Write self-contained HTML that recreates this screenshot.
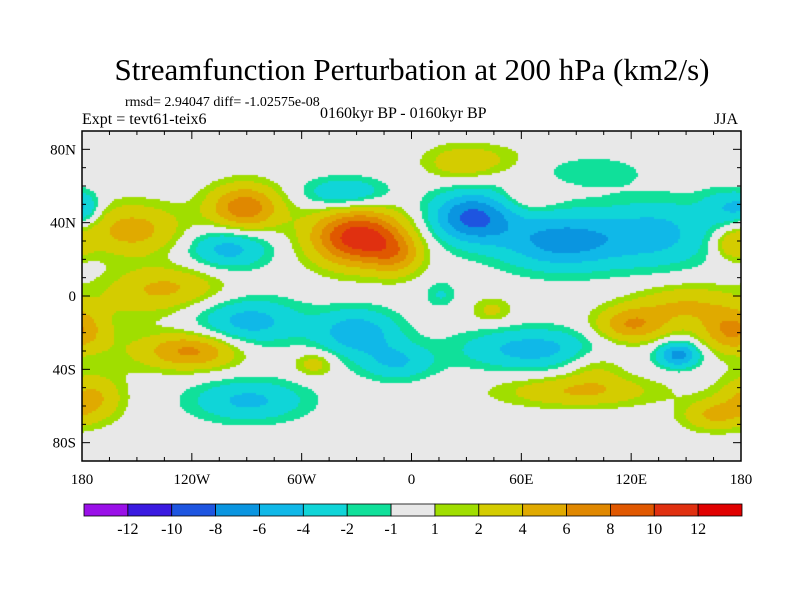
<!DOCTYPE html>
<html><head><meta charset="utf-8"><style>
body{margin:0;background:#fff;width:800px;height:600px;overflow:hidden;position:relative;font-family:"Liberation Serif",serif}
.t{position:absolute;white-space:nowrap;color:#000}
</style></head><body>
<div class="t" style="left:0;width:824px;text-align:center;top:52px;font-size:31px">Streamfunction Perturbation at 200 hPa (km2/s)</div>
<div class="t" style="left:125px;top:95px;font-size:14px">rmsd= 2.94047 diff= -1.02575e-08</div>
<div class="t" style="left:82px;top:111px;font-size:16px">Expt = tevt61-teix6</div>
<div class="t" style="left:320px;top:105px;font-size:16px">0160kyr BP - 0160kyr BP</div>
<div class="t" style="left:714px;top:111px;font-size:16px">JJA</div>
<canvas id="map" width="659" height="330" style="position:absolute;left:82px;top:131px"></canvas>
<svg id="ax" width="800" height="600" style="position:absolute;left:0;top:0"></svg>
<script>
const levels=[-12,-10,-8,-6,-4,-2,-1,1,2,4,6,8,10,12];
const colors=["#9a10e8","#3a1ae0","#1e55e0","#0a95e0","#10b8e8","#10d5d8","#10e09a","#e8e8e8","#a0de00","#d4cc00","#e0aa00","#e08800","#e05800","#e03010","#e00000"];
const blobLon=[-91,-153,-178,-100,-36,-29,-8,-133,-89,-30,-8,-120,-53,-175,-89,27,64,98,33,82,135,172,175,16,44,67,-150,120,175,146,91,164,150,100,-160,40];
const blobLat=[48,36,48,26,56,32,22,5,-14,-20,-36,-30,-37,-56,-57,72,54,68,43,30,34,48,28,1,-8,-29,-5,-16,-19,-32,-52,-65,-5,-38,-30,75];
const blobAmp=[7.5,5,-2.5,-5,-4.5,11.5,4,4,-5,-5.5,-4,6.5,3,4.5,-4.5,2.5,1.8,-1.9,-8.5,-7,-4.5,-3.5,3.5,-2.2,2.5,-5,1.2,6,6,-7,4,4,4,2.5,1,1.5];
const blobSx=[14,20,6,16,16,18,10,22,20,16,14,18,8,12,22,14,10,20,16,24,22,10,7,6,8,28,20,14,12,8,30,12,20,12,20,20];
const blobSy=[9,10,6,8,6,11,8,8,9,9,7,7,5,9,8,7,6,6,10,11,13,7,6,5,5,8,8,7,8,5,6,6,8,8,10,6];
const lonTicks=[-180,-120,-60,0,60,120,180];
const lonLabels=["180","120W","60W","0","60E","120E","180"];
const latTicks=[80,40,0,-40,-80];
const latLabels=["80N","40N","0","40S","80S"];
const X0=82,X1=741,Y0=131,Y1=461;
const xs=lon=>X0+(lon+180)/360*(X1-X0);
const ys=lat=>Y0+(90-lat)/180*(Y1-Y0);
function field(lon,lat){let v=0;for(let i=0;i<blobLon.length;i++){let d=lon-blobLon[i];d=((d+540)%360)-180;const e=lat-blobLat[i];v+=blobAmp[i]*Math.exp(-(d*d)/(2*blobSx[i]*blobSx[i])-(e*e)/(2*blobSy[i]*blobSy[i]));}return v;}
function col(v){let k=0;while(k<levels.length&&v>=levels[k])k++;return colors[k];}
const cv=document.getElementById('map'),cx=cv.getContext('2d');
for(let py=0;py<330;py+=2)for(let px=0;px<659;px+=2){const lon=(px+1)/659*360-180,lat=90-(py+1)/330*180;cx.fillStyle=col(field(lon,lat));cx.fillRect(px,py,2,2);}
const ax=document.getElementById('ax'),NS='http://www.w3.org/2000/svg';
function mk(t,a){const e=document.createElementNS(NS,t);for(const k in a)e.setAttribute(k,a[k]);ax.appendChild(e);return e;}
let fr=mk('rect',{x:X0,y:Y0,width:X1-X0,height:Y1-Y0,fill:'none',stroke:'#000','stroke-width':1.5});


for(let l=-180;l<=180;l+=15){const x=xs(l),len=l%60===0?8:4;mk('line',{x1:x,x2:x,y1:Y0,y2:Y0+len,stroke:'#000'});mk('line',{x1:x,x2:x,y1:Y1,y2:Y1-len,stroke:'#000'});}
for(let l=-90;l<=90;l+=10){const y=ys(l),len=l%40===0?8:4;mk('line',{x1:X0,x2:X0+len,y1:y,y2:y,stroke:'#000'});mk('line',{x1:X1,x2:X1-len,y1:y,y2:y,stroke:'#000'});}
lonTicks.forEach((l,i)=>{const t=mk('text',{x:xs(l),y:484,'text-anchor':'middle','font-size':15,'font-family':'Liberation Serif'});t.textContent=lonLabels[i];

});
latTicks.forEach((l,i)=>{const t=mk('text',{x:76,y:ys(l)+5,'text-anchor':'end','font-size':15,'font-family':'Liberation Serif'});t.textContent=latLabels[i];

});
const CB0=84,CB1=742,bw=(CB1-CB0)/colors.length;
colors.forEach((c,i)=>{const r=mk('rect',{x:CB0+i*bw,y:504,width:bw,height:12,fill:c,stroke:'#000','stroke-width':0.8});

});
levels.forEach((v,i)=>{const t=mk('text',{x:CB0+(i+1)*bw,y:534,'text-anchor':'middle','font-size':16,'font-family':'Liberation Serif'});t.textContent=v;

});
</script>
</body></html>
